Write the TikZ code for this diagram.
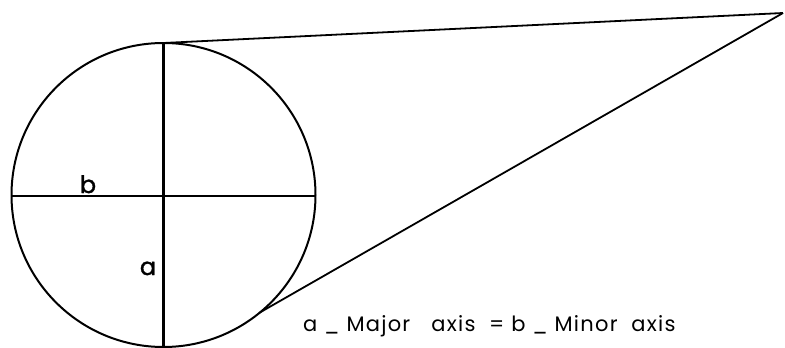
\documentclass[tikz,border=0pt]{standalone}
\usepackage{fontspec}
\setmainfont{Poppins}
\begin{document}
\begin{tikzpicture}[x=1pt, y=-1pt, every node/.style={inner sep=0pt, font=\fontsize{21}{21}\selectfont\addfontfeature{LetterSpace=6}}]
\useasboundingbox (0,0) rectangle (785,348);
% Kreis
\coordinate (centre) at (163.5,195);
\draw[line width=2pt] (centre) circle (152pt);
% Achsen
\coordinate (top) at (163.5,43);
\coordinate (bottom) at (163.5,347);
\coordinate (left) at (11.5,196);
\coordinate (right) at (315.5,196);
\draw[line width=3pt] (top) -- (bottom);
\draw[line width=1.5pt] (left) -- (right);
\node[anchor=base] (b) at (88,193) {\fontsize{24}{24}\selectfont\addfontfeature{FakeBold=1.5}b};
\node[anchor=base] (a) at (148,275) {\fontsize{24}{24}\selectfont\addfontfeature{FakeBold=1.5}a};
% Strahlen
\coordinate (apex) at (783,13);
\coordinate (touch) at (259,313);
\draw[line width=1.8pt] (top) -- (apex);
\draw[line width=1.8pt] (touch) -- (apex);
% Legende
\node[anchor=base west] (legend) at (303,331) {a \_ Major\hspace{1em}axis \ = b \_ Minor\ \ axis};
\end{tikzpicture}
\end{document}
